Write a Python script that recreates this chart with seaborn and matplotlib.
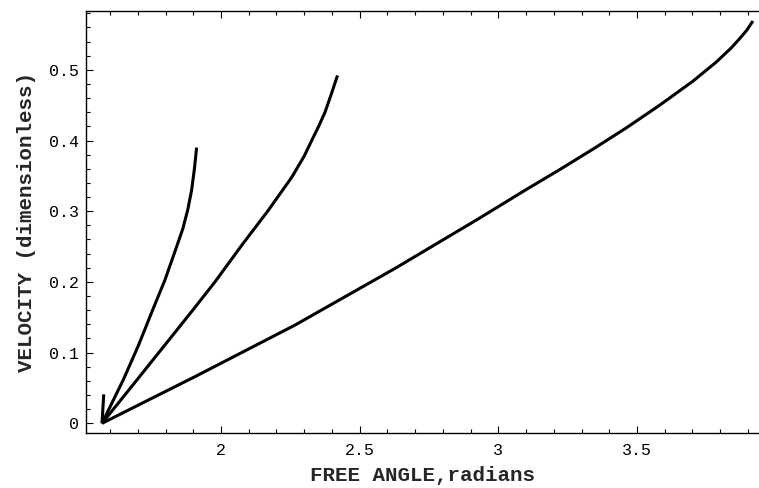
import numpy as np
import pandas as pd
import matplotlib
matplotlib.use("Agg")
import matplotlib.pyplot as plt
from matplotlib.ticker import MultipleLocator, FuncFormatter
import seaborn as sns

# Curve data (free angle in radians, velocity dimensionless)
curve_a_x = [1.5708, 1.648, 1.702, 1.750, 1.798, 1.840, 1.862, 1.880, 1.894, 1.904, 1.912]
curve_a_y = [0.000, 0.062, 0.110, 0.157, 0.203, 0.250, 0.275, 0.302, 0.330, 0.360, 0.390]

curve_b_x = [1.5708, 1.70, 1.80, 1.90, 1.98, 2.075, 2.17, 2.255, 2.300, 2.327, 2.352, 2.375, 2.398, 2.420]
curve_b_y = [0.000, 0.063, 0.112, 0.161, 0.201, 0.252, 0.301, 0.348, 0.378, 0.400, 0.420, 0.440, 0.466, 0.492]

curve_c_x = [1.5708, 1.906, 2.267, 2.627, 2.927, 3.102, 3.222, 3.342, 3.462, 3.582, 3.702, 3.786, 3.840, 3.870, 3.896, 3.918]
curve_c_y = [0.000, 0.066, 0.139, 0.219, 0.289, 0.331, 0.359, 0.388, 0.418, 0.450, 0.484, 0.511, 0.531, 0.544, 0.556, 0.569]

curve_d_x = [1.5708, 1.5740, 1.5770]
curve_d_y = [0.000, 0.021, 0.041]

x_ticks = [2, 2.5, 3, 3.5]
y_ticks = [0, 0.1, 0.2, 0.3, 0.4, 0.5]

frames = []
for name, xs, ys in [("a", curve_a_x, curve_a_y), ("b", curve_b_x, curve_b_y),
                     ("c", curve_c_x, curve_c_y), ("d", curve_d_x, curve_d_y)]:
    frames.append(pd.DataFrame({"x": xs, "y": ys, "curve": name,
                                "order": np.arange(len(xs))}))
df = pd.concat(frames, ignore_index=True)

sns.set_theme(style="white")
plt.rcParams["font.family"] = ["Liberation Mono", "DejaVu Sans Mono"]

fig = plt.figure(figsize=(7.59, 4.88), dpi=100)
ax = fig.add_axes([85.7 / 759, (488 - 433.3) / 488, (759 - 85.7) / 759, (433.3 - 10.7) / 488])

sns.lineplot(data=df, x="x", y="y", units="curve", estimator=None, sort=False,
             color="black", linewidth=2.2, ax=ax, legend=False)
for line in ax.get_lines():
    line.set_solid_joinstyle("round")
    line.set_solid_capstyle("butt")

ax.set_xlim(1.512, 3.94)
ax.set_ylim(-0.0141, 0.5836)

ax.set_xticks(x_ticks)
ax.set_yticks(y_ticks)
ax.xaxis.set_minor_locator(MultipleLocator(0.1))
ax.yaxis.set_minor_locator(MultipleLocator(0.02))

def fmt(v, pos):
    if abs(v) < 1e-9:
        return "0"
    return "%g" % v
ax.xaxis.set_major_formatter(FuncFormatter(fmt))
ax.yaxis.set_major_formatter(FuncFormatter(fmt))

for side in ["left", "bottom", "top"]:
    ax.spines[side].set_visible(True)
    ax.spines[side].set_color("black")
    ax.spines[side].set_linewidth(1.0)
ax.spines["right"].set_visible(False)

ax.tick_params(axis="both", which="both", direction="in", colors="black",
               labelsize=12, width=0.8)
ax.tick_params(axis="x", which="both", top=True, bottom=True, labeltop=False)
ax.tick_params(axis="y", which="both", left=True, right=False)
ax.tick_params(which="major", length=5)
ax.tick_params(which="minor", length=3)
ax.tick_params(axis="x", which="major", pad=7)
ax.tick_params(axis="y", which="major", pad=5)

ax.set_xlabel("FREE ANGLE,radians", fontsize=15, fontweight="bold", labelpad=6)
ax.set_ylabel("VELOCITY (dimensionless)", fontsize=15, fontweight="bold", labelpad=9)
ax.grid(False)

fig.savefig("out.png", dpi=100)
